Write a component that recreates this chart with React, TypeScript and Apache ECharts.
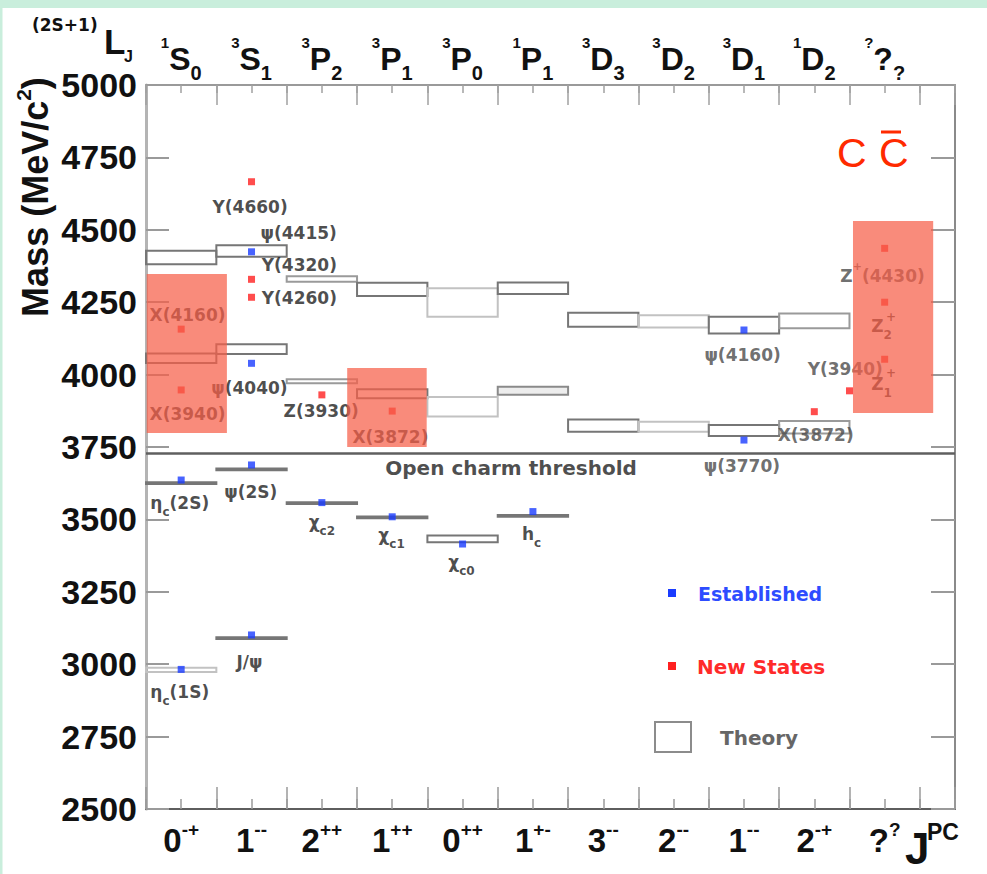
import React, { useEffect, useRef } from "react";
import * as echarts from "echarts";

// ---- categories (11 quantum-number columns) ----
const waveSup = ["1", "3", "3", "3", "3", "1", "3", "3", "3", "1", "?"];
const waveBase = ["S", "S", "P", "P", "P", "P", "D", "D", "D", "D", "?"];
const waveSub = ["0", "1", "2", "1", "0", "1", "3", "2", "1", "2", "?"];
const jpcBase = ["0", "1", "2", "1", "0", "1", "3", "2", "1", "2", "?"];
const jpcSup = ["-+", "--", "++", "++", "++", "+-", "--", "--", "--", "-+", "?"];

// ---- mass axis ----
const MASS_MIN = 2500;
const MASS_MAX = 5000;
const MASS_STEP = 250;
const COL_MAX = 11.5;

// ---- established states (column centre, mass) ----
const establishedCol = [0.5, 1.5, 0.5, 1.5, 2.5, 3.5, 4.5, 5.5, 1.5, 1.5, 8.5, 8.5];
const establishedMass = [2982, 3101, 3636, 3688, 3558, 3509, 3415, 3527, 4039, 4424, 4154, 3774];

// ---- new states ----
const newCol = [1.5, 1.5, 1.5, 0.5, 0.5, 2.5, 3.5, 9.5, 10.0, 10.5, 10.5, 10.5];
const newMass = [4666, 4329, 4267, 4157, 3947, 3930, 3874, 3872, 3944, 4436, 4250, 4053];

// ---- theory boxes (column, low mass, high mass) ----
const theoryCol = [0, 0, 0, 0, 1, 1, 1, 1, 2, 2, 2, 3, 3, 3, 4, 4, 4, 5, 5, 5, 6, 6, 7, 7, 8, 8, 9, 9];
const theoryLow = [2973, 3622, 4040, 4381, 3087, 3670, 4071, 4407, 3553, 3970, 4321, 3504, 3918, 4271, 3421, 3855, 4200, 3509, 3930, 4278, 3803, 4165, 3803, 4163, 3788, 4142, 3797, 4160];
const theoryHigh = [2988, 3628, 4073, 4428, 3093, 3676, 4105, 4447, 3559, 3984, 4340, 3510, 3949, 4317, 3444, 3923, 4298, 3515, 3958, 4318, 3845, 4214, 3837, 4205, 3826, 4200, 3840, 4211];
// outline tone of each box: 0 light, 1 medium, 2 dark, 3 medium with grey fill
const theoryShade = [0, 2, 2, 2, 2, 2, 2, 2, 2, 1, 1, 2, 2, 2, 2, 0, 0, 2, 3, 2, 2, 2, 0, 0, 2, 2, 1, 1];

// ---- open charm threshold ----
const thresholdMass = 3729;

// ---- highlighted regions (column from, column to, mass low, mass high) ----
const hlFrom = [0.01, 2.86, 10.05];
const hlTo = [1.15, 3.99, 11.19];
const hlLow = [3798, 3750, 3867];
const hlHigh = [4347, 4023, 4530];

// ---- state annotations ----
const annotations = [
  { t: "Y(4660)", x: 1.48, m: 4579 },
  { t: "ψ(4415)", x: 2.17, m: 4489 },
  { t: "Y(4320)", x: 2.18, m: 4377 },
  { t: "Y(4260)", x: 2.18, m: 4265 },
  { t: "X(4160)", x: 0.59, m: 4207 },
  { t: "X(3940)", x: 0.59, m: 3864 },
  { t: "ψ(4040)", x: 1.47, m: 3955 },
  { t: "Z(3930)", x: 2.49, m: 3873 },
  { t: "X(3872)", x: 3.475, m: 3786 },
  { t: "ψ(4160)", x: 8.48, m: 4068, gray: true },
  { t: "Y(3940)", x: 9.94, m: 4021, gray: true },
  { t: "{n|Z}{q|+}{n|(4430)}", x: 10.47, m: 4340, gray: true },
  { t: "{n|Z}{b|2}", x: 10.455, m: 4168 },
  { t: "{p|+}", x: 10.59, m: 4199 },
  { t: "{n|Z}{b|1}", x: 10.455, m: 3969 },
  { t: "{p|+}", x: 10.59, m: 4005 },
  { t: "X(3872)", x: 9.52, m: 3790, gray: true },
  { t: "ψ(3770)", x: 8.47, m: 3684, gray: true },
  { t: "{o|Open charm threshold}", x: 5.19, m: 3677 },
  { t: "{n|η}{b|c}{n|(2S)}", x: 0.48, m: 3558 },
  { t: "ψ(2S)", x: 1.49, m: 3595 },
  { t: "{n|χ}{b|c2}", x: 2.5, m: 3490 },
  { t: "{n|χ}{b|c1}", x: 3.49, m: 3446 },
  { t: "{n|χ}{b|c0}", x: 4.485, m: 3353 },
  { t: "{n|h}{b|c}", x: 5.48, m: 3450 },
  { t: "J/ψ", x: 1.47, m: 3009 },
  { t: "{n|η}{b|c}{n|(1S)}", x: 0.48, m: 2904 },
];

const SANS = "'Liberation Sans', Arial, Helvetica, sans-serif";
const WIDE = "'DejaVu Sans', Verdana, sans-serif";

function bottomLabel(v: number): string {
  const i = Math.round(v - 0.5);
  if (Math.abs(v - 0.5 - i) > 1e-6 || i < 0 || i >= jpcBase.length) return "";
  return `{b|${jpcBase[i]}}{s|${jpcSup[i]}}`;
}
function topLabel(v: number): string {
  const i = Math.round(v - 0.5);
  if (Math.abs(v - 0.5 - i) > 1e-6 || i < 0 || i >= waveBase.length) return "";
  return `{u|${waveSup[i]}}{m|${waveBase[i]}}{d|${waveSub[i]}}`;
}

const shadeStroke = ["#c2c2c2", "#9a9a9a", "#767676", "#8a8a8a"];
const shadeFill = ["rgba(255,255,255,0)", "rgba(255,255,255,0)", "rgba(255,255,255,0)", "#ededed"];

function buildOption(): any {
  const xBase = {
    type: "value",
    min: 0,
    max: COL_MAX,
    gridIndex: 0,
    splitLine: { show: false },
  };
  return {
    animation: false,
    backgroundColor: "#ffffff",
    grid: { left: 146, top: 85, width: 809, height: 724, containLabel: false },
    xAxis: [
      {
        ...xBase,
        position: "bottom",
        interval: 1,
        axisLine: { show: true, onZero: false, lineStyle: { color: "#5e5e5e", width: 2 } },
        axisTick: { show: true, inside: true, length: 22, lineStyle: { color: "#9a9a9a", width: 1.5 } },
        axisLabel: { show: false },
      },
      {
        ...xBase,
        position: "bottom",
        interval: 0.5,
        axisLine: { show: false, onZero: false },
        axisTick: { show: true, inside: true, length: 10, lineStyle: { color: "#9a9a9a", width: 1.5 } },
        axisLabel: {
          show: true,
          margin: 11,
          formatter: bottomLabel,
          color: "#111",
          rich: {
            b: { fontFamily: SANS, fontWeight: "bold", fontSize: 33, lineHeight: 40, color: "#111" },
            s: { fontFamily: SANS, fontWeight: "bold", fontSize: 19, lineHeight: 19, verticalAlign: "top", color: "#111" },
          },
        },
      },
      {
        ...xBase,
        position: "top",
        interval: 1,
        axisLine: { show: true, onZero: false, lineStyle: { color: "#9a9a9a", width: 2 } },
        axisTick: { show: true, inside: true, length: 20, lineStyle: { color: "#a0a0a0", width: 1.5 } },
        axisLabel: { show: false },
      },
      {
        ...xBase,
        position: "top",
        interval: 0.5,
        axisLine: { show: false, onZero: false },
        axisTick: { show: true, inside: true, length: 8, lineStyle: { color: "#a0a0a0", width: 1.5 } },
        axisLabel: {
          show: true,
          margin: 2.5,
          formatter: topLabel,
          color: "#111",
          rich: {
            u: { fontFamily: SANS, fontWeight: "bold", fontSize: 15, lineHeight: 27, verticalAlign: "top", color: "#111" },
            m: { fontFamily: SANS, fontWeight: "bold", fontSize: 32, lineHeight: 48, color: "#111" },
            d: { fontFamily: SANS, fontWeight: "bold", fontSize: 20, lineHeight: 20, verticalAlign: "bottom", color: "#111" },
          },
        },
      },
    ],
    yAxis: [
      {
        type: "value",
        position: "left",
        min: MASS_MIN,
        max: MASS_MAX,
        interval: MASS_STEP,
        splitLine: { show: false },
        axisLine: { show: true, onZero: false, lineStyle: { color: "#b4b4b4", width: 3 } },
        axisTick: { show: true, inside: true, length: 23, lineStyle: { color: "#9a9a9a", width: 2 } },
        axisLabel: {
          show: true,
          margin: 9,
          formatter: (v: number) => String(v),
          fontFamily: SANS,
          fontWeight: "bold",
          fontSize: 34,
          color: "#111",
        },
      },
      {
        type: "value",
        position: "right",
        min: MASS_MIN,
        max: MASS_MAX,
        interval: MASS_STEP,
        splitLine: { show: false },
        axisLine: { show: true, onZero: false, lineStyle: { color: "#8a8a8a", width: 2 } },
        axisTick: { show: true, inside: true, length: 24, lineStyle: { color: "#9a9a9a", width: 2 } },
        axisLabel: { show: false },
      },
    ],
    series: [
      {
        name: "Theory",
        type: "custom",
        xAxisIndex: 0,
        yAxisIndex: 0,
        z: 2,
        silent: true,
        data: theoryCol.map((c, i) => [c, theoryLow[i], theoryHigh[i], theoryShade[i]]),
        renderItem: (params: any, api: any) => {
          const c = api.value(0);
          const lo = api.value(1);
          const hi = api.value(2);
          const sh = api.value(3);
          const p0 = api.coord([c, hi]);
          const p1 = api.coord([c + 1, lo]);
          return {
            type: "rect",
            shape: { x: p0[0], y: p0[1], width: p1[0] - p0[0], height: Math.max(p1[1] - p0[1], 1) },
            style: { fill: shadeFill[sh], stroke: shadeStroke[sh], lineWidth: 2 },
          };
        },
      },
      {
        name: "Established",
        type: "scatter",
        xAxisIndex: 0,
        yAxisIndex: 0,
        z: 3,
        symbol: "rect",
        symbolSize: 7,
        itemStyle: { color: "#1a3cff" },
        data: establishedCol.map((c, i) => [c, establishedMass[i]]),
        markLine: {
          silent: true,
          symbol: ["none", "none"],
          label: { show: false },
          lineStyle: { color: "#5f5f5f", width: 2.5, type: "solid" },
          data: [{ yAxis: thresholdMass }],
        },
      },
      {
        name: "New States",
        type: "scatter",
        xAxisIndex: 0,
        yAxisIndex: 0,
        z: 3,
        symbol: "rect",
        symbolSize: 7,
        itemStyle: { color: "#ff2020" },
        data: newCol.map((c, i) => [c, newMass[i]]),
      },
      {
        name: "labels",
        type: "scatter",
        xAxisIndex: 0,
        yAxisIndex: 0,
        z: 4,
        silent: true,
        symbolSize: 1,
        itemStyle: { color: "rgba(0,0,0,0)" },
        label: {
          show: true,
          position: "inside",
          formatter: (p: any) => p.name,
          fontFamily: WIDE,
          fontWeight: "bold",
          fontSize: 17,
          lineHeight: 30,
          color: "#1e1e1e",
          rich: {
            n: { fontFamily: WIDE, fontWeight: "bold", fontSize: 17, lineHeight: 30 },
            b: { fontFamily: WIDE, fontWeight: "bold", fontSize: 12, lineHeight: 11, verticalAlign: "bottom" },
            p: { fontFamily: WIDE, fontWeight: "bold", fontSize: 12, lineHeight: 12, verticalAlign: "top" },
            q: { fontFamily: WIDE, fontWeight: "bold", fontSize: 11, lineHeight: 20, verticalAlign: "top" },
            o: { fontFamily: WIDE, fontWeight: "bold", fontSize: 20, lineHeight: 30 },
          },
        },
        data: annotations.map((a) => ({
          value: [a.x, a.m],
          name: a.t,
          label: a.gray ? { color: "#4a4a4a" } : undefined,
        })),
      },
      {
        name: "highlight",
        type: "custom",
        xAxisIndex: 0,
        yAxisIndex: 0,
        z: 6,
        silent: true,
        data: hlFrom.map((f, i) => [f, hlTo[i], hlLow[i], hlHigh[i]]),
        renderItem: (params: any, api: any) => {
          const p0 = api.coord([api.value(0), api.value(3)]);
          const p1 = api.coord([api.value(1), api.value(2)]);
          return {
            type: "rect",
            shape: { x: p0[0], y: p0[1], width: p1[0] - p0[0], height: p1[1] - p0[1] },
            style: { fill: "rgba(247,94,72,0.72)" },
          };
        },
      },
    ],
    graphic: [
      { type: "rect", z: 100, shape: { x: 0, y: 0, width: 987, height: 8 }, style: { fill: "#c9eedc" } },
      { type: "rect", z: 100, shape: { x: 0, y: 0, width: 2.5, height: 874 }, style: { fill: "#c9eedc" } },
      {
        type: "text",
        x: 32,
        y: 25,
        style: { text: "(2S+1)", fontFamily: WIDE, fontWeight: "bold", fontSize: 17, fill: "#111", align: "left", verticalAlign: "middle" },
      },
      {
        type: "text",
        x: 104,
        y: 41,
        style: { text: "L", fontFamily: SANS, fontWeight: "bold", fontSize: 35, fill: "#111", align: "left", verticalAlign: "middle" },
      },
      {
        type: "text",
        x: 124,
        y: 56,
        style: { text: "J", fontFamily: SANS, fontWeight: "bold", fontSize: 16, fill: "#111", align: "left", verticalAlign: "middle" },
      },
      {
        type: "text",
        x: 35,
        y: 197,
        rotation: Math.PI / 2,
        style: {
          text: "{m|Mass (MeV/c}{s|2}{m|)}",
          align: "center",
          verticalAlign: "middle",
          fill: "#111",
          rich: {
            m: { fontFamily: SANS, fontWeight: "bold", fontSize: 36, lineHeight: 44, fill: "#111" },
            s: { fontFamily: SANS, fontWeight: "bold", fontSize: 21, lineHeight: 22, verticalAlign: "top", fill: "#111" },
          },
        },
      },
      {
        type: "text",
        x: 905,
        y: 848,
        style: { text: "J", fontFamily: SANS, fontWeight: "bold", fontSize: 44, fill: "#111", align: "left", verticalAlign: "middle" },
      },
      {
        type: "text",
        x: 927,
        y: 832,
        style: { text: "PC", fontFamily: SANS, fontWeight: "bold", fontSize: 23, fill: "#111", align: "left", verticalAlign: "middle" },
      },
      {
        type: "text",
        x: 837,
        y: 153,
        style: { text: "C", fontFamily: SANS, fontSize: 41, fill: "#ff2a00", align: "left", verticalAlign: "middle" },
      },
      {
        type: "text",
        x: 879,
        y: 153,
        style: { text: "C", fontFamily: SANS, fontSize: 41, fill: "#ff2a00", align: "left", verticalAlign: "middle" },
      },
      { type: "line", shape: { x1: 881, y1: 132, x2: 901, y2: 132 }, style: { stroke: "#ff2a00", lineWidth: 3 } },
      // legend
      { type: "rect", shape: { x: 668, y: 589, width: 8, height: 8 }, style: { fill: "#1a3cff" } },
      {
        type: "text",
        x: 698,
        y: 594,
        style: { text: "Established", fontFamily: WIDE, fontWeight: "bold", fontSize: 19, fill: "#2d4cff", align: "left", verticalAlign: "middle" },
      },
      { type: "rect", shape: { x: 668, y: 662, width: 8, height: 8 }, style: { fill: "#ff2020" } },
      {
        type: "text",
        x: 697,
        y: 667,
        style: { text: "New States", fontFamily: WIDE, fontWeight: "bold", fontSize: 20, fill: "#ff2a2a", align: "left", verticalAlign: "middle" },
      },
      { type: "rect", shape: { x: 655, y: 722, width: 36, height: 30 }, style: { fill: "#fff", stroke: "#8c8c8c", lineWidth: 2 } },
      {
        type: "text",
        x: 720,
        y: 738,
        style: { text: "Theory", fontFamily: WIDE, fontWeight: "bold", fontSize: 20, fill: "#666", align: "left", verticalAlign: "middle" },
      },
    ],
  };
}

export default function App() {
  const ref = useRef<HTMLDivElement>(null);
  useEffect(() => {
    if (!ref.current) return;
    const chart = echarts.init(ref.current, null, { renderer: "svg" });
    chart.setOption(buildOption());
    return () => {
      chart.dispose();
    };
  }, []);
  return (
    <div
      ref={ref}
      style={{ position: "absolute", left: 0, top: 0, width: 987, height: 874, background: "#fff" }}
    />
  );
}
